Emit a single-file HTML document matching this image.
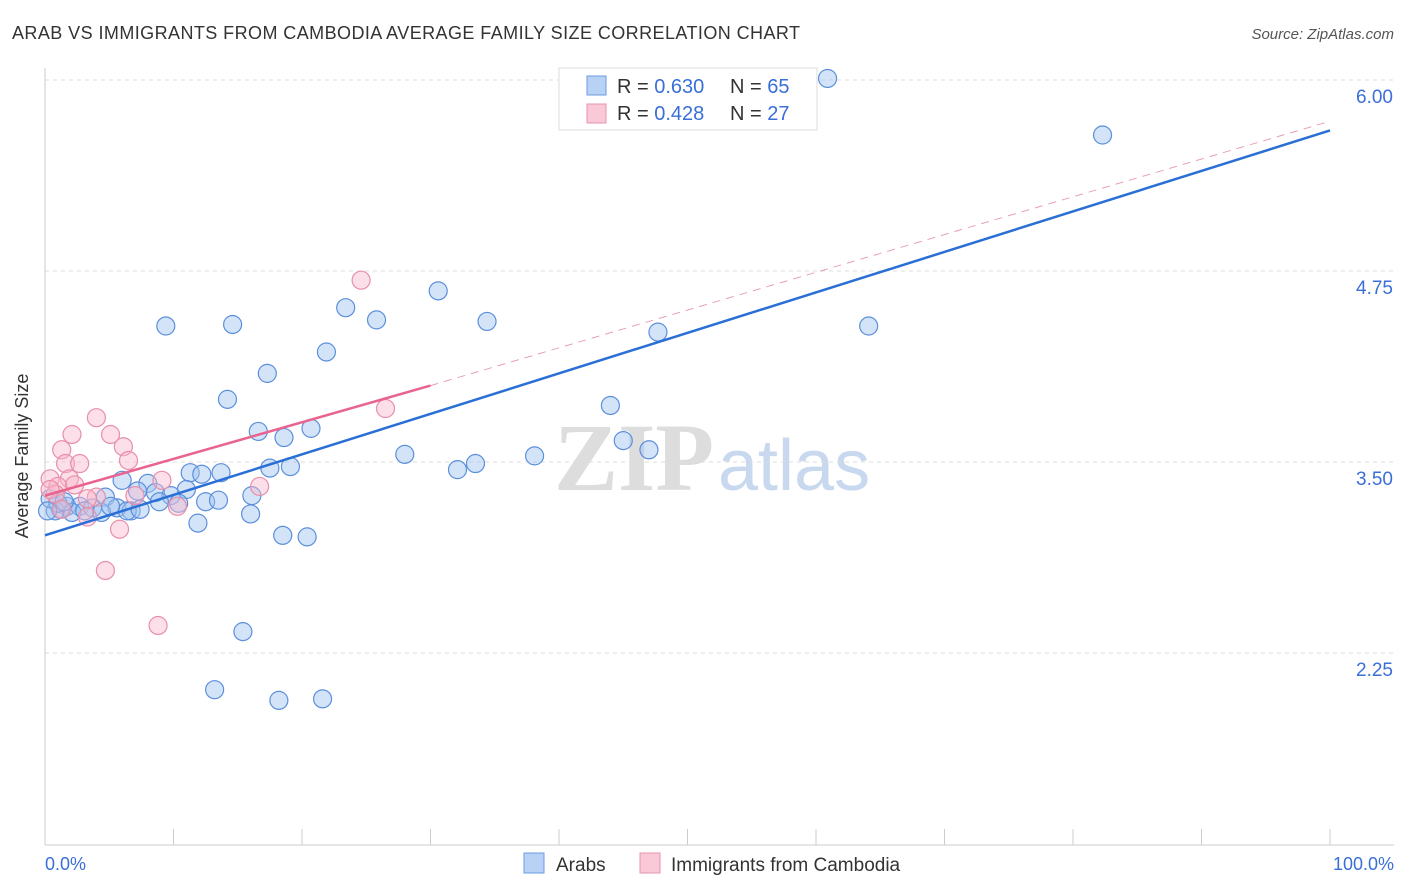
<!DOCTYPE html>
<html><head><meta charset="utf-8"><style>
body{margin:0;background:#fff;font-family:"Liberation Sans",sans-serif}
svg{display:block}
</style></head><body>
<svg id="chart" width="1406" height="892" xmlns="http://www.w3.org/2000/svg">
<text x="12" y="39" font-size="18" fill="#333" textLength="788">ARAB VS IMMIGRANTS FROM CAMBODIA AVERAGE FAMILY SIZE CORRELATION CHART</text>
<text x="1394" y="39" font-size="15" fill="#555" font-style="italic" text-anchor="end">Source: ZipAtlas.com</text>
<text x="714" y="490" font-size="96" fill="#ddd" font-family="Liberation Serif" text-anchor="end" font-weight="bold">ZIP</text>
<text x="718" y="490" font-size="72" fill="#c8d8ef">atlas</text>
<g id="grid"></g>
<line x1="45" y1="68" x2="45" y2="845" stroke="#ccc"/>
<line x1="45" y1="845" x2="1394" y2="845" stroke="#ccc"/>
<g id="xticks"></g>
<text x="28" y="456" font-size="18" fill="#333" text-anchor="middle" transform="rotate(-90 28 456)">Average Family Size</text>
<text x="45" y="870" font-size="18" fill="#3a6fd8">0.0%</text>
<text x="1394" y="870" font-size="18" fill="#3a6fd8" text-anchor="end">100.0%</text>
<g id="pts"></g>
<g id="lines"></g>
<g>
<rect x="559" y="68" width="258" height="62" fill="#fff" stroke="#ddd"/>
<rect x="587" y="76" width="19" height="19" fill="#b7d2f5" stroke="#6a9be0"/>
<rect x="587" y="104" width="19" height="19" fill="#f9c9d7" stroke="#e893ad"/>
<text x="617" y="93" font-size="20" fill="#333">R = <tspan fill="#3a6fd8">0.630</tspan></text>
<text x="730" y="93" font-size="20" fill="#333">N = <tspan fill="#3a6fd8">65</tspan></text>
<text x="617" y="120" font-size="20" fill="#333">R = <tspan fill="#3a6fd8">0.428</tspan></text>
<text x="730" y="120" font-size="20" fill="#333">N = <tspan fill="#3a6fd8">27</tspan></text>
</g>
<g>
<rect x="524" y="853" width="20" height="20" fill="#b7d2f5" stroke="#6a9be0"/>
<text x="556" y="871" font-size="19" fill="#333">Arabs</text>
<rect x="640" y="853" width="20" height="20" fill="#f9c9d7" stroke="#e893ad"/>
<text x="671" y="871" font-size="19" fill="#333">Immigrants from Cambodia</text>
</g>
</svg>
<script>
const yTicks=[2.25,3.5,4.75,6.0];
const yTickLabels=["2.25","3.50","4.75","6.00"];
const blueX=[60.9,82.3,30.6,23.4,25.8,34.4,9.4,14.6,47.7,64.1,21.9,17.3,14.2,44.0,16.6,20.7,18.6,45.0,47.0,28.0,38.1,33.5,32.1,19.1,17.5,11.3,12.2,13.7,6.0,8.0,11.0,7.2,8.6,9.8,4.7,16.1,12.5,13.5,10.4,8.9,1.7,2.7,3.7,5.6,6.7,1.2,0.8,2.1,4.4,6.4,16.0,11.9,18.5,20.4,15.4,13.2,18.2,21.6,0.4,1.0,3.1,5.1,7.4,0.2,1.5];
const blueY=[6.01,5.64,4.62,4.51,4.43,4.42,4.39,4.40,4.35,4.39,4.22,4.08,3.91,3.87,3.70,3.72,3.66,3.64,3.58,3.55,3.54,3.49,3.45,3.47,3.46,3.43,3.42,3.43,3.38,3.36,3.32,3.31,3.30,3.28,3.27,3.28,3.24,3.25,3.23,3.24,3.21,3.21,3.20,3.20,3.18,3.19,3.18,3.17,3.17,3.18,3.16,3.10,3.02,3.01,2.39,2.01,1.94,1.95,3.26,3.23,3.18,3.21,3.19,3.18,3.24];
const pinkX=[24.6,4.0,26.5,2.1,5.1,6.1,1.3,1.6,2.7,6.5,9.1,1.9,0.4,1.0,2.3,4.0,3.3,0.8,7.0,16.7,10.3,3.3,5.8,4.7,8.8,0.4,1.3];
const pinkY=[4.69,3.79,3.85,3.68,3.68,3.60,3.58,3.49,3.49,3.51,3.38,3.39,3.39,3.34,3.35,3.27,3.26,3.29,3.28,3.34,3.21,3.14,3.06,2.79,2.43,3.32,3.19];
const blueTrend=[[0,3.02],[100,5.67]];
const pinkTrend=[[0,3.28],[30,4.0]];
const pinkDash=[[30,4.0],[100,5.73]];
const NS="http://www.w3.org/2000/svg";
const X=v=>45+v*12.85;
const Y=v=>462-(v-3.5)*152.8;
function mk(tag,attrs,parent){const e=document.createElementNS(NS,tag);for(const k in attrs)e.setAttribute(k,attrs[k]);document.getElementById(parent).appendChild(e);return e;}
yTicks.forEach((t,i)=>{
 const l=mk('line',{x1:45,x2:1394,y1:Y(t),y2:Y(t),stroke:'#ddd','stroke-dasharray':'4,4'},'grid');
 
 
 const tx=mk('text',{x:1393,y:Y(t)+23,'font-size':19,fill:'#3a6fd8','text-anchor':'end'},'grid');
 tx.textContent=yTickLabels[i];
 
 
});
for(let i=0;i<=10;i++){
 const l=mk('line',{x1:X(i*10),x2:X(i*10),y1:829,y2:845,stroke:'#ccc'},'xticks');
 
 
}
blueX.forEach((x,i)=>{
 const c=mk('circle',{cx:X(x),cy:Y(blueY[i]),r:9,fill:'rgba(160,196,240,0.45)',stroke:'#5b8fdc','stroke-width':1.2},'pts');
 
 
});
pinkX.forEach((x,i)=>{
 const c=mk('circle',{cx:X(x),cy:Y(pinkY[i]),r:9,fill:'rgba(248,184,204,0.45)',stroke:'#e88fab','stroke-width':1.2},'pts');
 
 
});
let l=mk('line',{x1:X(blueTrend[0][0]),y1:Y(blueTrend[0][1]),x2:X(blueTrend[1][0]),y2:Y(blueTrend[1][1]),stroke:'#2a6fd6','stroke-width':2.5},'lines');


l=mk('line',{x1:X(pinkTrend[0][0]),y1:Y(pinkTrend[0][1]),x2:X(pinkTrend[1][0]),y2:Y(pinkTrend[1][1]),stroke:'#e8648f','stroke-width':2.5},'lines');


l=mk('line',{x1:X(pinkDash[0][0]),y1:Y(pinkDash[0][1]),x2:X(pinkDash[1][0]),y2:Y(pinkDash[1][1]),stroke:'#e8a0b5','stroke-width':1,'stroke-dasharray':'8,6'},'lines');


</script>
</body></html>
